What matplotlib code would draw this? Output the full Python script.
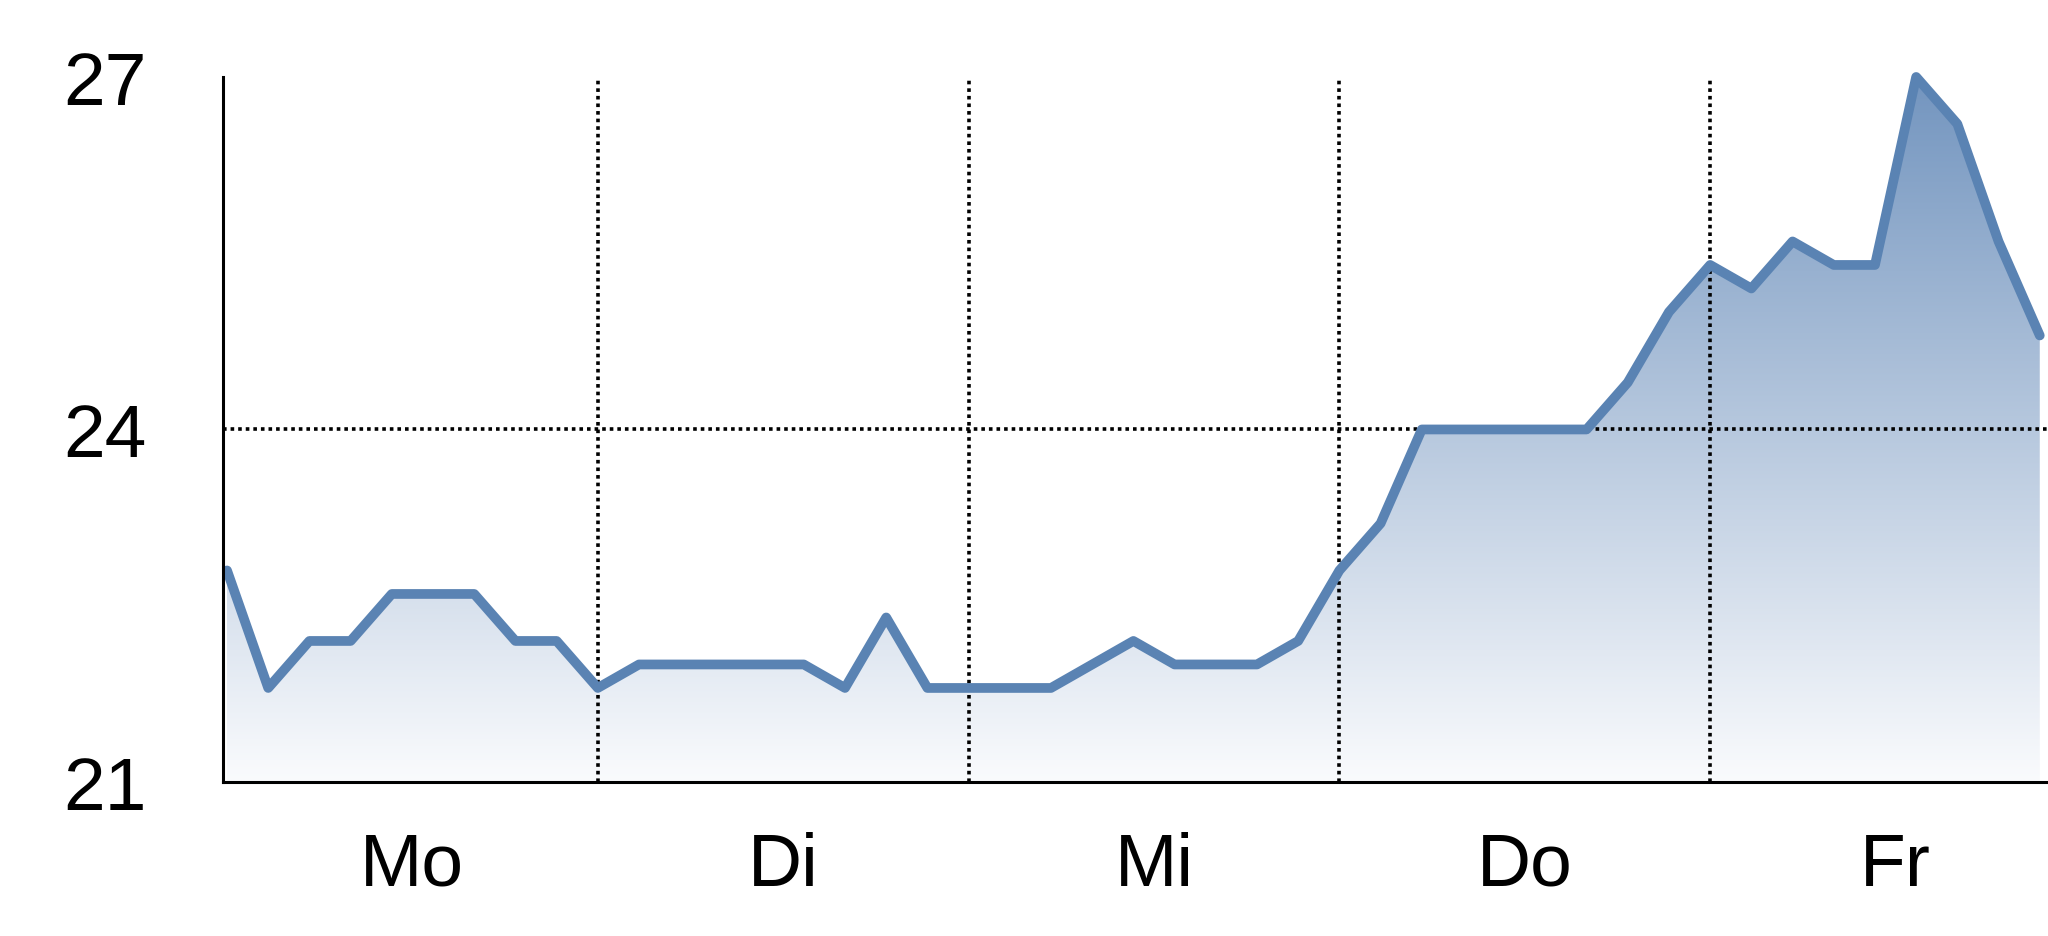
import numpy as np
import matplotlib
matplotlib.use("Agg")
import matplotlib.pyplot as plt
from matplotlib.patches import Polygon
from matplotlib.colors import LinearSegmentedColormap

plt.rcParams['font.family'] = ['Liberation Sans', 'DejaVu Sans']

# readings, 9 per day
days = ['Mo', 'Di', 'Mi', 'Do', 'Fr']
perDay = 9
temps = [22.8, 21.8, 22.2, 22.2, 22.6, 22.6, 22.6, 22.2, 22.2,
         21.8, 22.0, 22.0, 22.0, 22.0, 22.0, 21.8, 22.4, 21.8,
         21.8, 21.8, 21.8, 22.0, 22.2, 22.0, 22.0, 22.0, 22.2,
         22.8, 23.2, 24.0, 24.0, 24.0, 24.0, 24.0, 24.4, 25.0,
         25.4, 25.2, 25.6, 25.4, 25.4, 27.0, 26.6, 25.6, 24.8]
yTicks = [21, 24, 27]

lineColor = '#5a83b3'
yMin, yMax = 21, 27

x = np.arange(len(temps))
y = np.array(temps)

fig = plt.figure(figsize=(20.48, 9.37), dpi=100)
ax = fig.add_axes([0.1089, 0.1644, 0.8911, 0.7524])
xMin, xMax = -0.097, 44.2
ax.set_xlim(xMin, xMax)
ax.set_ylim(yMin, yMax)

# gradient fill under the line
cmap = LinearSegmentedColormap.from_list('grad', ['#fafbfd', '#7395bf'])
grad = np.linspace(0, 1, 256).reshape(-1, 1)
im = ax.imshow(grad, cmap=cmap, origin='lower', aspect='auto',
               extent=[xMin, xMax, yMin, yMax], zorder=1)
verts = np.column_stack([np.r_[x[0], x, x[-1]], np.r_[yMin, y, yMin]])
clip = Polygon(verts, facecolor='none', edgecolor='none')
ax.add_patch(clip)
im.set_clip_path(clip)

# grid
for d in range(1, len(days)):
    ax.axvline(d * perDay, color='black', lw=2.6, dashes=(1, 1.1), zorder=2)
ax.axhline(24, color='black', lw=2.6, dashes=(1, 1.1), zorder=2)

ax.plot(x, y, color=lineColor, lw=7, solid_joinstyle='round',
        solid_capstyle='round', zorder=3, clip_on=False)

for s in ['top', 'right']:
    ax.spines[s].set_visible(False)
for s in ['left', 'bottom']:
    ax.spines[s].set_linewidth(2.2)
    ax.spines[s].set_zorder(4)

ax.set_yticks(yTicks)
ax.set_yticklabels([str(t) for t in yTicks])
centers = [i * perDay + perDay / 2 for i in range(len(days))]
ax.set_xticks(centers)
ax.set_xticklabels(days)
ax.tick_params(axis='y', length=0, pad=55, labelsize=54)
ax.tick_params(axis='x', length=0, pad=35, labelsize=54)

fig.savefig('out.png', dpi=100)
